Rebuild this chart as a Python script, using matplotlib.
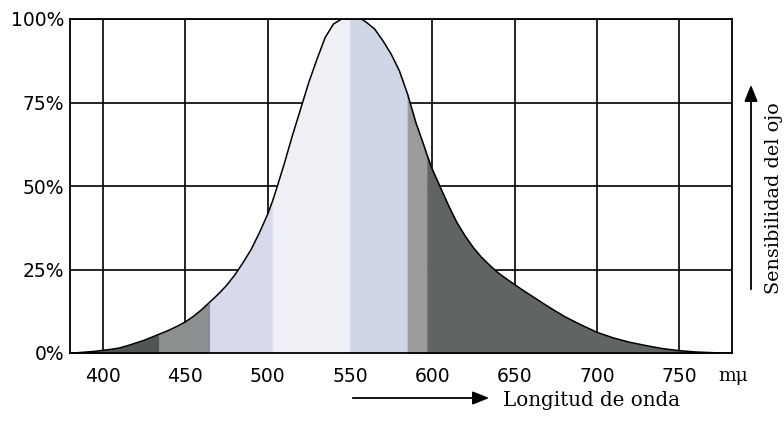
import numpy as np
import matplotlib
matplotlib.use("Agg")
import matplotlib.pyplot as plt

# eye sensitivity curve (%)
wavelength = np.array([380, 385, 390, 395, 400, 405, 410, 415, 420, 425, 430, 434,
                       440, 445, 450, 455, 460, 465, 470, 475, 480, 485, 490, 495,
                       500, 503, 505, 510, 515, 520, 525, 530, 535, 540, 545, 550,
                       555, 557, 560, 565, 570, 575, 580, 585, 590, 595, 597, 600,
                       605, 610, 615, 620, 625, 630, 635, 640, 645, 650, 655, 660,
                       670, 680, 690, 700, 710, 720, 730, 740, 750, 760, 770, 775])
sensitivity = np.array([0, 0.1, 0.3, 0.5, 0.8, 1.1, 1.5, 2.2, 3, 3.8, 4.8, 5.6,
                        6.8, 8, 9.3, 11, 13, 15.3, 17.6, 20.2, 23.3, 27, 31, 36,
                        41.5, 45.5, 48.5, 56.5, 65, 73, 81, 88, 94.5, 98.5, 100, 100,
                        100, 100, 99, 97, 93.5, 89.5, 84.5, 77.5, 69, 62, 59, 55,
                        49.5, 44, 39, 35, 31.5, 28.6, 26.2, 24, 22.2, 20.5, 18.8, 17.2,
                        14, 11, 8.5, 6.2, 4.5, 3.2, 2.2, 1.3, 0.7, 0.3, 0.1, 0])

# shaded bands under the curve
band_edges = [380, 434, 465, 503, 550, 585, 597, 775]
band_colors = ["#505555", "#8b8f8f", "#d6daea", "#eef0f6", "#cfd7e7", "#9a9c9c", "#616464"]

xticks = [400, 450, 500, 550, 600, 650, 700, 750]
yticks = [0, 25, 50, 75, 100]
ytick_labels = ["0%", "25%", "50%", "75%", "100%"]

fig = plt.figure(figsize=(7.84, 4.33), dpi=100)
ax = fig.add_axes([70 / 784, 1 - 353 / 433, 662 / 784, 334 / 433])

for lo, hi, col in zip(band_edges[:-1], band_edges[1:], band_colors):
    m = (wavelength >= lo) & (wavelength <= hi)
    ax.fill_between(wavelength[m], 0, sensitivity[m], facecolor=col,
                    edgecolor=col, lw=0.6, zorder=2)
ax.plot(wavelength, sensitivity, color="black", lw=1.1, zorder=3)

ax.set_xlim(380, 782)
ax.set_ylim(0, 100)
ax.set_xticks(xticks)
ax.set_yticks(yticks)
ax.set_yticklabels(ytick_labels)
ax.grid(True, color="black", lw=1.2, zorder=0)
ax.set_axisbelow(True)
ax.tick_params(length=0, labelsize=13.5)
ax.tick_params(axis="x", pad=10)
ax.tick_params(axis="y", pad=4)
for s in ax.spines.values():
    s.set_linewidth(1.3)

fig.text(733 / 784, 1 - 376 / 433, "m\u03bc", family="DejaVu Serif", fontsize=13.5,
         ha="center", va="center")

# bottom arrow + label
fig.patches.append(matplotlib.patches.FancyArrowPatch(
    (350, 433 - 398), (492, 433 - 398), transform=None,
    arrowstyle="-|>,head_length=10,head_width=4", color="black", lw=1.3))
fig.text(503 / 784, 1 - 400 / 433, "Longitud de onda", family="DejaVu Serif",
         fontsize=14.3, ha="left", va="center")

# right arrow + label
fig.patches.append(matplotlib.patches.FancyArrowPatch(
    (751, 433 - 292), (751, 433 - 82), transform=None,
    arrowstyle="-|>,head_length=10,head_width=4", color="black", lw=1.3))
fig.text(774 / 784, 1 - 198 / 433, "Sensibilidad del ojo", family="DejaVu Serif",
         fontsize=13.8, rotation=90, ha="center", va="center")

fig.savefig("out.png", dpi=100, facecolor="white")
